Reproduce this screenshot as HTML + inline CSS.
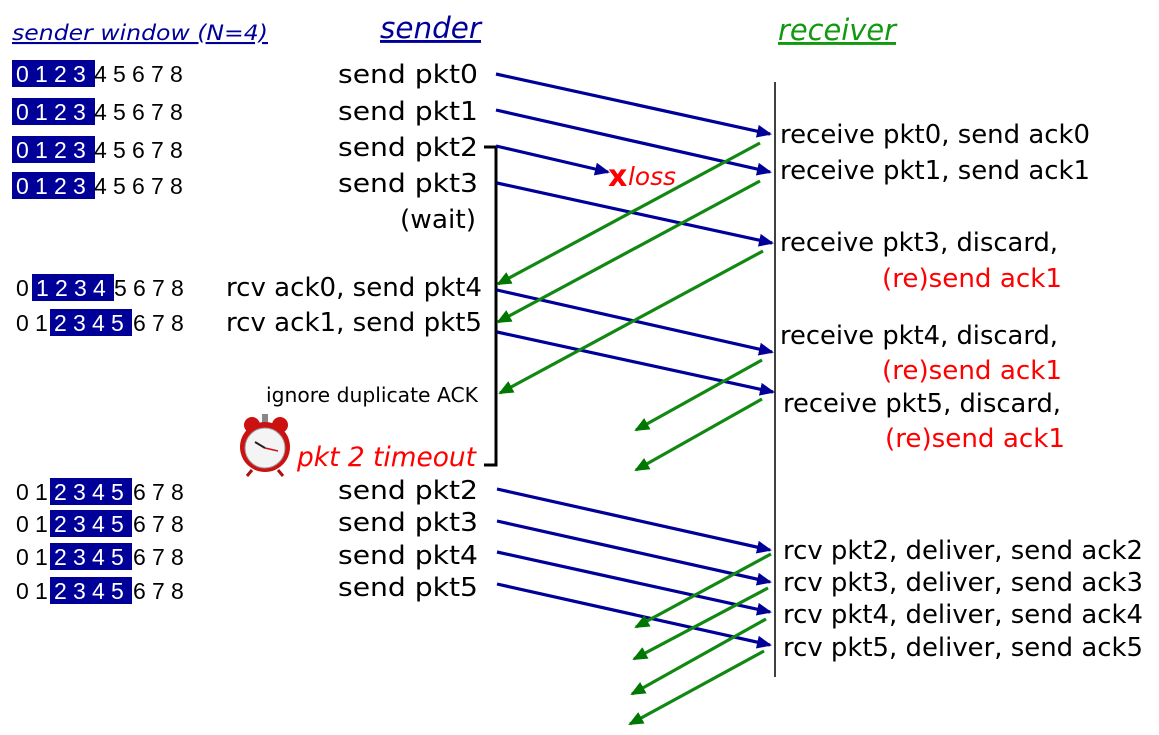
<!DOCTYPE html>
<html><head><meta charset="utf-8"><style>
html,body{margin:0;padding:0;background:#fff;}
svg{display:block;font-family:"DejaVu Sans","Liberation Sans",sans-serif;}
</style></head><body>
<svg width="1159" height="735" viewBox="0 0 1159 735" xmlns="http://www.w3.org/2000/svg">
<defs>
<marker id="ab" markerWidth="16" markerHeight="14" refX="13" refY="6.5" orient="auto" markerUnits="userSpaceOnUse"><path d="M0,0 L15,6.5 L0,13 Z" fill="#000099"/></marker>
<marker id="ag" markerWidth="16" markerHeight="14" refX="13" refY="6.5" orient="auto" markerUnits="userSpaceOnUse"><path d="M0,0 L15,6.5 L0,13 Z" fill="#007700"/></marker>
</defs>

<text x="12" y="40" font-size="21" font-style="italic" fill="#000099" text-decoration="underline" textLength="256" lengthAdjust="spacingAndGlyphs">sender window (N=4)</text>
<text x="380" y="38" font-size="29" font-style="italic" fill="#000099" text-decoration="underline" textLength="101" lengthAdjust="spacingAndGlyphs">sender</text>
<text x="778" y="40" font-size="29" font-style="italic" fill="#119911" text-decoration="underline" textLength="118" lengthAdjust="spacingAndGlyphs">receiver</text>

<g>
<rect x="12" y="60" width="83" height="27" fill="#000099"/>
<rect x="12" y="98" width="83" height="27" fill="#000099"/>
<rect x="12" y="136" width="83" height="27" fill="#000099"/>
<rect x="12" y="172" width="83" height="27" fill="#000099"/>
<rect x="32" y="274" width="82" height="27" fill="#000099"/>
<rect x="50" y="309" width="82" height="27" fill="#000099"/>
<rect x="50" y="478" width="82" height="27" fill="#000099"/>
<rect x="50" y="510" width="82" height="27" fill="#000099"/>
<rect x="50" y="543" width="82" height="27" fill="#000099"/>
<rect x="50" y="577" width="82" height="27" fill="#000099"/>
</g>
<g font-size="23" fill="#000" font-family="Liberation Sans, sans-serif">
<text y="82"><tspan x="16" fill="#fff">0</tspan><tspan x="35" fill="#fff">1</tspan><tspan x="54" fill="#fff">2</tspan><tspan x="73" fill="#fff">3</tspan><tspan x="94">4</tspan><tspan x="113">5</tspan><tspan x="132">6</tspan><tspan x="151">7</tspan><tspan x="170">8</tspan></text>
<text y="120"><tspan x="16" fill="#fff">0</tspan><tspan x="35" fill="#fff">1</tspan><tspan x="54" fill="#fff">2</tspan><tspan x="73" fill="#fff">3</tspan><tspan x="94">4</tspan><tspan x="113">5</tspan><tspan x="132">6</tspan><tspan x="151">7</tspan><tspan x="170">8</tspan></text>
<text y="158"><tspan x="16" fill="#fff">0</tspan><tspan x="35" fill="#fff">1</tspan><tspan x="54" fill="#fff">2</tspan><tspan x="73" fill="#fff">3</tspan><tspan x="94">4</tspan><tspan x="113">5</tspan><tspan x="132">6</tspan><tspan x="151">7</tspan><tspan x="170">8</tspan></text>
<text y="194"><tspan x="16" fill="#fff">0</tspan><tspan x="35" fill="#fff">1</tspan><tspan x="54" fill="#fff">2</tspan><tspan x="73" fill="#fff">3</tspan><tspan x="94">4</tspan><tspan x="113">5</tspan><tspan x="132">6</tspan><tspan x="151">7</tspan><tspan x="170">8</tspan></text>
<text y="296"><tspan x="16">0</tspan><tspan x="36" fill="#fff">1</tspan><tspan x="55" fill="#fff">2</tspan><tspan x="74" fill="#fff">3</tspan><tspan x="93" fill="#fff">4</tspan><tspan x="114">5</tspan><tspan x="133">6</tspan><tspan x="152">7</tspan><tspan x="171">8</tspan></text>
<text y="331"><tspan x="16">0</tspan><tspan x="35">1</tspan><tspan x="54" fill="#fff">2</tspan><tspan x="73" fill="#fff">3</tspan><tspan x="92" fill="#fff">4</tspan><tspan x="111" fill="#fff">5</tspan><tspan x="133">6</tspan><tspan x="152">7</tspan><tspan x="171">8</tspan></text>
<text y="500"><tspan x="16">0</tspan><tspan x="35">1</tspan><tspan x="54" fill="#fff">2</tspan><tspan x="73" fill="#fff">3</tspan><tspan x="92" fill="#fff">4</tspan><tspan x="111" fill="#fff">5</tspan><tspan x="133">6</tspan><tspan x="152">7</tspan><tspan x="171">8</tspan></text>
<text y="532"><tspan x="16">0</tspan><tspan x="35">1</tspan><tspan x="54" fill="#fff">2</tspan><tspan x="73" fill="#fff">3</tspan><tspan x="92" fill="#fff">4</tspan><tspan x="111" fill="#fff">5</tspan><tspan x="133">6</tspan><tspan x="152">7</tspan><tspan x="171">8</tspan></text>
<text y="565"><tspan x="16">0</tspan><tspan x="35">1</tspan><tspan x="54" fill="#fff">2</tspan><tspan x="73" fill="#fff">3</tspan><tspan x="92" fill="#fff">4</tspan><tspan x="111" fill="#fff">5</tspan><tspan x="133">6</tspan><tspan x="152">7</tspan><tspan x="171">8</tspan></text>
<text y="599"><tspan x="16">0</tspan><tspan x="35">1</tspan><tspan x="54" fill="#fff">2</tspan><tspan x="73" fill="#fff">3</tspan><tspan x="92" fill="#fff">4</tspan><tspan x="111" fill="#fff">5</tspan><tspan x="133">6</tspan><tspan x="152">7</tspan><tspan x="171">8</tspan></text>
</g>

<g font-size="26" fill="#000">
<text x="338" y="83" textLength="140" lengthAdjust="spacingAndGlyphs">send  pkt0</text>
<text x="338" y="120" textLength="140" lengthAdjust="spacingAndGlyphs">send  pkt1</text>
<text x="338" y="156" textLength="140" lengthAdjust="spacingAndGlyphs">send  pkt2</text>
<text x="338" y="192" textLength="140" lengthAdjust="spacingAndGlyphs">send  pkt3</text>
<text x="400" y="228" textLength="76" lengthAdjust="spacingAndGlyphs">(wait)</text>
<text x="226" y="296" textLength="256" lengthAdjust="spacingAndGlyphs">rcv ack0, send pkt4</text>
<text x="226" y="331" textLength="256" lengthAdjust="spacingAndGlyphs">rcv ack1, send pkt5</text>
<text x="266" y="402" font-size="20" textLength="212" lengthAdjust="spacingAndGlyphs">ignore duplicate ACK</text>
<text x="297" y="466" font-style="italic" fill="#ff0000" font-size="27" textLength="179" lengthAdjust="spacingAndGlyphs">pkt 2 timeout</text>
<text x="338" y="499" textLength="140" lengthAdjust="spacingAndGlyphs">send  pkt2</text>
<text x="338" y="531" textLength="140" lengthAdjust="spacingAndGlyphs">send  pkt3</text>
<text x="338" y="564" textLength="140" lengthAdjust="spacingAndGlyphs">send  pkt4</text>
<text x="338" y="596" textLength="140" lengthAdjust="spacingAndGlyphs">send  pkt5</text>
</g>

<g>
<circle cx="252" cy="425" r="8" fill="#cc1111"/>
<circle cx="280" cy="425" r="8" fill="#cc1111"/>
<rect x="262" y="414" width="6" height="10" fill="#888"/>
<circle cx="265" cy="447" r="25" fill="#cc1111"/>
<circle cx="265" cy="448" r="20" fill="#f4f4f4" stroke="#999" stroke-width="1"/>
<line x1="265" y1="448" x2="255" y2="442" stroke="#222" stroke-width="2"/>
<line x1="265" y1="448" x2="278" y2="451" stroke="#cc1111" stroke-width="1.5"/>
<line x1="252" y1="470" x2="247" y2="476" stroke="#aa1111" stroke-width="3"/>
<line x1="278" y1="470" x2="283" y2="476" stroke="#aa1111" stroke-width="3"/>
</g>

<path d="M484,147 H496 V465 H484" fill="none" stroke="#000" stroke-width="3"/>
<line x1="775" y1="82" x2="775" y2="677" stroke="#000" stroke-width="1.5"/>

<g stroke="#000099" stroke-width="3.2" marker-end="url(#ab)">
<line x1="496" y1="74" x2="770" y2="134"/>
<line x1="496" y1="110" x2="770" y2="172"/>
<line x1="496" y1="146" x2="608" y2="172"/>
<line x1="497" y1="183" x2="772" y2="243"/>
<line x1="497" y1="290" x2="772" y2="352"/>
<line x1="497" y1="332" x2="773" y2="392"/>
<line x1="497" y1="489" x2="770" y2="550"/>
<line x1="497" y1="521" x2="770" y2="582"/>
<line x1="497" y1="552" x2="770" y2="612"/>
<line x1="497" y1="584" x2="770" y2="645"/>
</g>

<g stroke="#118811" stroke-width="3.2" marker-end="url(#ag)">
<line x1="760" y1="143" x2="498" y2="284"/>
<line x1="760" y1="181" x2="498" y2="322"/>
<line x1="763" y1="251" x2="500" y2="393"/>
<line x1="762" y1="360" x2="636" y2="430"/>
<line x1="762" y1="399" x2="636" y2="470"/>
<line x1="771" y1="554" x2="636" y2="627"/>
<line x1="768" y1="588" x2="634" y2="659"/>
<line x1="766" y1="619" x2="632" y2="694"/>
<line x1="764" y1="651" x2="630" y2="724"/>
</g>

<text x="608" y="186" font-size="30" font-weight="bold" fill="#ff0000">x</text>
<text x="628" y="185" font-size="25" font-style="italic" fill="#ff0000" textLength="48" lengthAdjust="spacingAndGlyphs">loss</text>

<g font-size="26" fill="#000">
<text x="780" y="143" textLength="310" lengthAdjust="spacingAndGlyphs">receive pkt0, send ack0</text>
<text x="780" y="179" textLength="310" lengthAdjust="spacingAndGlyphs">receive pkt1, send ack1</text>
<text x="780" y="251" textLength="278" lengthAdjust="spacingAndGlyphs">receive pkt3, discard,</text>
<text x="882" y="287" fill="#ff0000" textLength="180" lengthAdjust="spacingAndGlyphs">(re)send ack1</text>
<text x="780" y="344" textLength="278" lengthAdjust="spacingAndGlyphs">receive pkt4, discard,</text>
<text x="882" y="379" fill="#ff0000" textLength="180" lengthAdjust="spacingAndGlyphs">(re)send ack1</text>
<text x="783" y="412" textLength="278" lengthAdjust="spacingAndGlyphs">receive pkt5, discard,</text>
<text x="885" y="447" fill="#ff0000" textLength="180" lengthAdjust="spacingAndGlyphs">(re)send ack1</text>
<text x="783" y="559" textLength="360" lengthAdjust="spacingAndGlyphs">rcv pkt2, deliver, send ack2</text>
<text x="783" y="591" textLength="360" lengthAdjust="spacingAndGlyphs">rcv pkt3, deliver, send ack3</text>
<text x="783" y="623" textLength="360" lengthAdjust="spacingAndGlyphs">rcv pkt4, deliver, send ack4</text>
<text x="783" y="656" textLength="360" lengthAdjust="spacingAndGlyphs">rcv pkt5, deliver, send ack5</text>
</g>
</svg>
</body></html>
